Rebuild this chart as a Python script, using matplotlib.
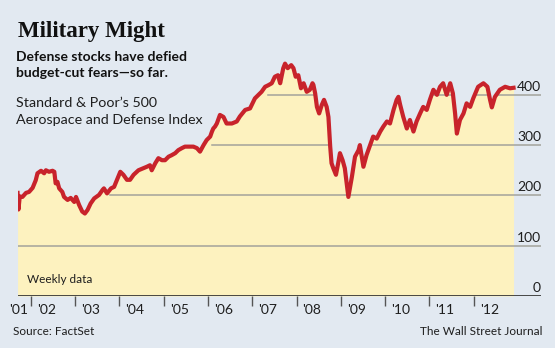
import matplotlib
matplotlib.use("Agg")
import matplotlib.pyplot as plt
import matplotlib.transforms as mtransforms

# S&P 500 Aerospace and Defense Index (decimal years)
years = [2001.70, 2001.72, 2001.75, 2001.81, 2001.89, 2001.96, 2002.04, 2002.11, 2002.15, 2002.23,
         2002.30, 2002.34, 2002.41, 2002.49, 2002.53, 2002.56, 2002.60, 2002.64, 2002.71, 2002.75,
         2002.83, 2002.90, 2002.98, 2003.02, 2003.09, 2003.16, 2003.22, 2003.28, 2003.35, 2003.43,
         2003.54, 2003.62, 2003.65, 2003.72, 2003.81, 2003.88, 2004.02, 2004.09, 2004.17, 2004.24,
         2004.32, 2004.43, 2004.54, 2004.62, 2004.69, 2004.73, 2004.81, 2004.88, 2004.96, 2005.03,
         2005.11, 2005.18, 2005.26, 2005.33, 2005.41, 2005.48, 2005.60, 2005.67, 2005.75, 2005.82,
         2005.90, 2005.97, 2006.05, 2006.09, 2006.12, 2006.16, 2006.20, 2006.27, 2006.35, 2006.42,
         2006.54, 2006.65, 2006.72, 2006.84, 2006.95, 2007.06, 2007.14, 2007.21, 2007.29, 2007.36,
         2007.44, 2007.51, 2007.58, 2007.63, 2007.70, 2007.74, 2007.80, 2007.88, 2007.93, 2007.98,
         2008.04, 2008.10, 2008.16, 2008.23, 2008.30, 2008.36, 2008.38, 2008.42, 2008.46, 2008.51,
         2008.57, 2008.62, 2008.68, 2008.72, 2008.76, 2008.79, 2008.83, 2008.89, 2008.94, 2008.98,
         2009.04, 2009.09, 2009.17, 2009.25, 2009.32, 2009.40, 2009.43, 2009.51, 2009.58, 2009.66,
         2009.73, 2009.81, 2009.89, 2009.96, 2010.04, 2010.11, 2010.19, 2010.26, 2010.30, 2010.34,
         2010.41, 2010.49, 2010.56, 2010.64, 2010.71, 2010.79, 2010.86, 2010.94, 2011.01, 2011.09,
         2011.17, 2011.24, 2011.31, 2011.39, 2011.47, 2011.53, 2011.58, 2011.62, 2011.69, 2011.77,
         2011.84, 2011.92, 2011.99, 2012.10, 2012.22, 2012.31, 2012.37, 2012.41, 2012.48, 2012.59,
         2012.71, 2012.82, 2012.90]
index = [205, 172, 198, 197, 205, 207, 215, 230, 244, 249,
         244, 250, 247, 249, 247, 224, 227, 214, 207, 197,
         191, 195, 187, 197, 181, 168, 164, 171, 184, 194,
         201, 211, 214, 204, 214, 217, 247, 241, 231, 231,
         241, 250, 254, 257, 260, 250, 264, 274, 270, 270,
         277, 280, 284, 290, 294, 297, 297, 297, 294, 287,
         300, 310, 317, 327, 333, 337, 343, 360, 356, 343,
         343, 347, 357, 370, 373, 393, 400, 406, 416, 419,
         423, 436, 439, 423, 453, 462, 453, 459, 453, 436,
         439, 413, 423, 406, 410, 423, 420, 403, 376, 363,
         380, 390, 376, 356, 297, 264, 254, 241, 264, 284,
         270, 254, 197, 237, 277, 290, 300, 257, 280, 300,
         317, 313, 327, 337, 347, 343, 370, 390, 396, 380,
         356, 333, 350, 327, 347, 363, 376, 370, 390, 410,
         400, 416, 423, 400, 423, 403, 363, 323, 350, 363,
         383, 376, 393, 416, 423, 416, 390, 375, 396, 410,
         416, 413, 414]

grid_levels = [100, 200, 300, 400]
grid_start = [2001.71, 2003.79, 2006.09, 2007.36]
year_ticks = list(range(2002, 2013))
year_labels = ["'02", "'03", "'04", "'05", "'06", "'07", "'08", "'09", "'10", "'11", "'12"]

bg = "#e2e9f1"
yellow = "#fdf2bf"
red = "#c8232b"
ink = "#1e1e1e"
sans = ["Lato", "DejaVu Sans"]

fig = plt.figure(figsize=(5.55, 3.48), dpi=100, facecolor=bg)
ax = fig.add_axes([18 / 555, 52 / 348, 523 / 555, 0.6937])
ax.set_facecolor("none")
ax.set_xlim(2001.71, 2013.52)
ax.set_ylim(0, 480)
for s in ax.spines.values():
    s.set_visible(False)
ax.set_yticks([])

fill = ax.fill_between(years, index, 0, color=yellow, lw=0, zorder=1)
clip = fill.get_paths()[0]

lift = mtransforms.ScaledTranslation(0, 2 / 100, fig.dpi_scale_trans)
for lev, x0 in zip(grid_levels, grid_start):
    gl, = ax.plot([x0, years[-1]], [lev, lev], color="#a3a39b", lw=1.1, zorder=2)
    gl.set_clip_path(clip, ax.transData)
    ax.plot([years[-1], 2013.52], [lev, lev], color="#a3a39b", lw=1.1, zorder=2)
    ax.text(2013.52, lev, str(lev), ha="right", va="bottom", fontsize=10,
            family=sans, color=ink, transform=ax.transData + lift)

ax.axhline(0, color="#3a3a3a", lw=1.3, zorder=4)
ax.text(2013.52, 0, "0", ha="right", va="bottom", fontsize=10, family=sans, color=ink,
        transform=ax.transData + lift)

ax.plot(years, index, color=red, lw=3.0, solid_joinstyle="round", zorder=3)

# year ticks and labels
ax.set_xticks(year_ticks)
ax.set_xticklabels([])
ax.tick_params(axis="x", direction="out", length=7, width=1, color="#555555")
xt = ax.get_xaxis_transform()
for yr, lab in zip(year_ticks, year_labels):
    ax.text(yr, 0, lab, ha="left", va="center", fontsize=10, family=sans, color=ink,
            transform=xt + mtransforms.ScaledTranslation(6 / 100, -14 / 100, fig.dpi_scale_trans))
ax.text(2002, 0, "'01", ha="right", va="center", fontsize=10, family=sans, color=ink,
        transform=xt + mtransforms.ScaledTranslation(-3 / 100, -14 / 100, fig.dpi_scale_trans))

ax.text(0.017, 0.055, "Weekly data", transform=ax.transAxes, fontsize=8.5,
        family=sans, color=ink, va="baseline")

fig.text(18 / 555, 1 - 37.3 / 348, "Military Might", family="Liberation Serif",
         weight="bold", fontsize=16.5, color="#111111", va="baseline")
fig.text(16 / 555, 1 - 61 / 348, "Defense stocks have defied", family=sans,
         weight="bold", fontsize=10, color="#111111", va="baseline")
fig.text(16 / 555, 1 - 76.7 / 348, "budget-cut fears\u2014so far.", family=sans,
         weight="bold", fontsize=10, color="#111111", va="baseline")
fig.text(16 / 555, 1 - 106.7 / 348, "Standard & Poor\u2019s 500", family=sans,
         fontsize=10.3, color=ink, va="baseline")
fig.text(16 / 555, 1 - 124 / 348, "Aerospace and Defense Index", family=sans,
         fontsize=10.3, color=ink, va="baseline")
fig.text(12.7 / 555, 1 - 335 / 348, "Source: FactSet", family=sans,
         fontsize=8.5, color=ink, va="baseline")
fig.text(542.7 / 555, 1 - 335 / 348, "The Wall Street Journal", family=sans,
         fontsize=8.5, color=ink, va="baseline", ha="right")

fig.savefig("out.png", dpi=100, facecolor=bg)
